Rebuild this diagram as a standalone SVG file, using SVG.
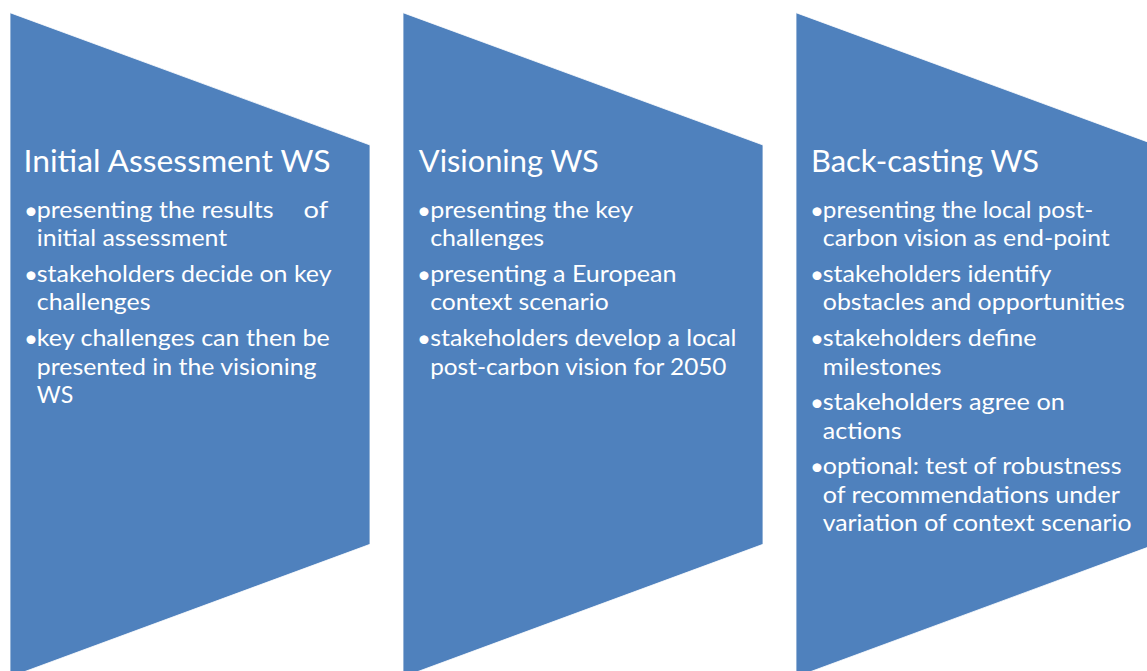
<svg xmlns="http://www.w3.org/2000/svg" width="1147" height="671" viewBox="0 0 1147 671">
<style>
.shape{fill:#4F81BD;stroke:#ffffff;stroke-width:0.8}
text{font-family:Lato,"Open Sans","Liberation Sans",sans-serif;fill:#ffffff}
.title{font-size:31px}
.body{font-size:23.5px}
.bul{font-size:24px;text-anchor:middle}
</style>
<rect width="1147" height="671" fill="#ffffff"/>
<g id="node-initial-assessment">
<polygon class="shape" points="10,12.7 370,145 370,544.3 10,677"/>
<text class="title" x="23.5" y="172.3" textLength="307" lengthAdjust="spacingAndGlyphs">Initial Assessment WS</text>
<text class="bul" x="31" y="218.5">•</text>
<text class="bul" x="31" y="282.6">•</text>
<text class="bul" x="31" y="346.7">•</text>
<text class="body" x="36.8" y="217.7" textLength="236.7" lengthAdjust="spacingAndGlyphs">presenting the results</text>
<text class="body" x="303.5" y="217.7" textLength="24.7" lengthAdjust="spacingAndGlyphs">of</text>
<text class="body" x="36.8" y="246.3" textLength="190.4" lengthAdjust="spacingAndGlyphs">initial assessment</text>
<text class="body" x="36.8" y="281.8" textLength="294.7" lengthAdjust="spacingAndGlyphs">stakeholders decide on key</text>
<text class="body" x="36.8" y="310.4" textLength="113.7" lengthAdjust="spacingAndGlyphs">challenges</text>
<text class="body" x="36.8" y="345.9" textLength="293" lengthAdjust="spacingAndGlyphs">key challenges can then be</text>
<text class="body" x="36.8" y="374.5" textLength="279.7" lengthAdjust="spacingAndGlyphs">presented in the visioning</text>
<text class="body" x="36.8" y="402.5" textLength="36.4" lengthAdjust="spacingAndGlyphs">WS</text>
</g>
<g id="node-visioning">
<polygon class="shape" points="403,12.7 763,145 763,544.3 403,677"/>
<text class="title" x="418.8" y="172.3" textLength="180" lengthAdjust="spacingAndGlyphs">Visioning WS</text>
<text class="bul" x="424" y="218.5">•</text>
<text class="bul" x="424" y="282.6">•</text>
<text class="bul" x="424" y="346.7">•</text>
<text class="body" x="430.2" y="217.7" textLength="203" lengthAdjust="spacingAndGlyphs">presenting the key</text>
<text class="body" x="430.2" y="246.3" textLength="114" lengthAdjust="spacingAndGlyphs">challenges</text>
<text class="body" x="430.2" y="281.8" textLength="246.3" lengthAdjust="spacingAndGlyphs">presenting a European</text>
<text class="body" x="430.2" y="310.4" textLength="178.6" lengthAdjust="spacingAndGlyphs">context scenario</text>
<text class="body" x="430.2" y="345.9" textLength="306.3" lengthAdjust="spacingAndGlyphs">stakeholders develop a local</text>
<text class="body" x="430.2" y="374.5" textLength="296.3" lengthAdjust="spacingAndGlyphs">post-carbon vision for 2050</text>
</g>
<g id="node-back-casting">
<polygon class="shape" points="796,12.7 1156,145 1156,544.3 796,677"/>
<text class="title" x="811" y="172.3" textLength="228" lengthAdjust="spacingAndGlyphs">Back-casting WS</text>
<text class="bul" x="817" y="218.5">•</text>
<text class="bul" x="817" y="282.6">•</text>
<text class="bul" x="817" y="346.7">•</text>
<text class="bul" x="817" y="410.8">•</text>
<text class="bul" x="817" y="474.9">•</text>
<text class="body" x="822.8" y="217.7" textLength="270.4" lengthAdjust="spacingAndGlyphs">presenting the local post-</text>
<text class="body" x="822.8" y="246.3" textLength="287" lengthAdjust="spacingAndGlyphs">carbon vision as end-point</text>
<text class="body" x="822.8" y="281.8" textLength="228.7" lengthAdjust="spacingAndGlyphs">stakeholders identify</text>
<text class="body" x="822.8" y="310.4" textLength="302" lengthAdjust="spacingAndGlyphs">obstacles and opportunities</text>
<text class="body" x="822.8" y="345.9" textLength="213.7" lengthAdjust="spacingAndGlyphs">stakeholders define</text>
<text class="body" x="822.8" y="374.5" textLength="118.7" lengthAdjust="spacingAndGlyphs">milestones</text>
<text class="body" x="822.8" y="410" textLength="242" lengthAdjust="spacingAndGlyphs">stakeholders agree on</text>
<text class="body" x="822.8" y="438.6" textLength="78.7" lengthAdjust="spacingAndGlyphs">actions</text>
<text class="body" x="822.8" y="474.1" textLength="298.7" lengthAdjust="spacingAndGlyphs">optional: test of robustness</text>
<text class="body" x="822.8" y="502.7" textLength="297" lengthAdjust="spacingAndGlyphs">of recommendations under</text>
<text class="body" x="822.8" y="531.3" textLength="308.7" lengthAdjust="spacingAndGlyphs">variation of context scenario</text>
</g>
</svg>
